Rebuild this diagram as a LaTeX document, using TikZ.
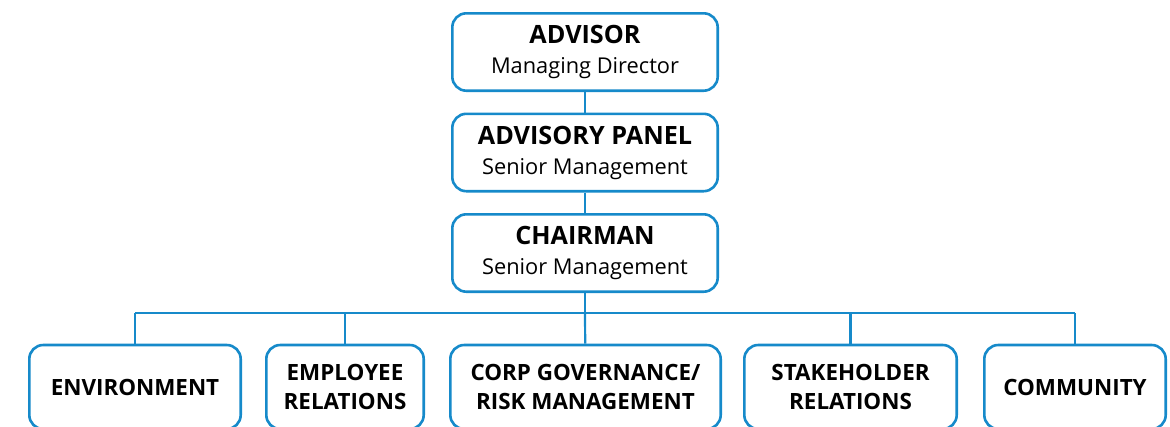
\documentclass[tikz,border=0pt]{standalone}
\usepackage{fontspec}
\setmainfont{Open Sans}
\usepackage{xcolor}
\usetikzlibrary{positioning}
\definecolor{orgblue}{RGB}{22,138,202}
\newcommand{\boxhead}[1]{{\fontsize{25.2}{30}\selectfont\bfseries #1}}

\begin{document}
\begin{tikzpicture}[
    x=1pt, y=-1pt,
    node distance=20.5pt,
    topbox/.style={rectangle, draw=orgblue, line width=2.6pt, rounded corners=14pt, minimum width=265.4pt, minimum height=77.4pt, align=center, fill=white, font=\fontsize{21.8}{30}\selectfont},
    unitbox/.style={rectangle, draw=orgblue, line width=2.6pt, rounded corners=14pt, minimum height=84pt, align=center, fill=white, font=\fontsize{22.4}{29}\selectfont\bfseries},
    link/.style={draw=orgblue, line width=2.2pt},
]
    \clip (0,0) rectangle (1170,426);

    % Top column
    \node[topbox] (advisor) at (585,52) {\boxhead{ADVISOR}\\Managing Director};
    \node[topbox, below=of advisor] (panel) {\boxhead{ADVISORY PANEL}\\Senior Management};
    \node[topbox, below=of panel] (chair) {\boxhead{CHAIRMAN}\\Senior Management};

    % Bottom row
    \node[unitbox, minimum width=211.4pt] (env) at (135,387) {ENVIRONMENT};
    \node[unitbox, minimum width=157.4pt] (emp) at (345,387) {EMPLOYEE\\RELATIONS};
    \node[unitbox, minimum width=270.4pt] (corp) at (585.5,387) {CORP GOVERNANCE/\\RISK MANAGEMENT};
    \node[unitbox, minimum width=212.4pt] (stake) at (850.5,387) {STAKEHOLDER\\RELATIONS};
    \node[unitbox, minimum width=181.4pt] (comm) at (1075,387) {COMMUNITY};

    % Bus
    \coordinate (bus) at (585,313);

    % Lines
    \draw[link] (advisor) -- (panel);
    \draw[link] (panel) -- (chair);
    \draw[link] (chair) -- (bus);
    \draw[link] (bus -| env) -- (bus -| comm);
    \draw[link] (bus -| env) -- (env);
    \draw[link] (bus -| emp) -- (emp);
    \draw[link] (bus) -- (corp);
    \draw[link] (bus -| stake) -- (stake);
    \draw[link] (bus -| comm) -- (comm);

\end{tikzpicture}
\end{document}
